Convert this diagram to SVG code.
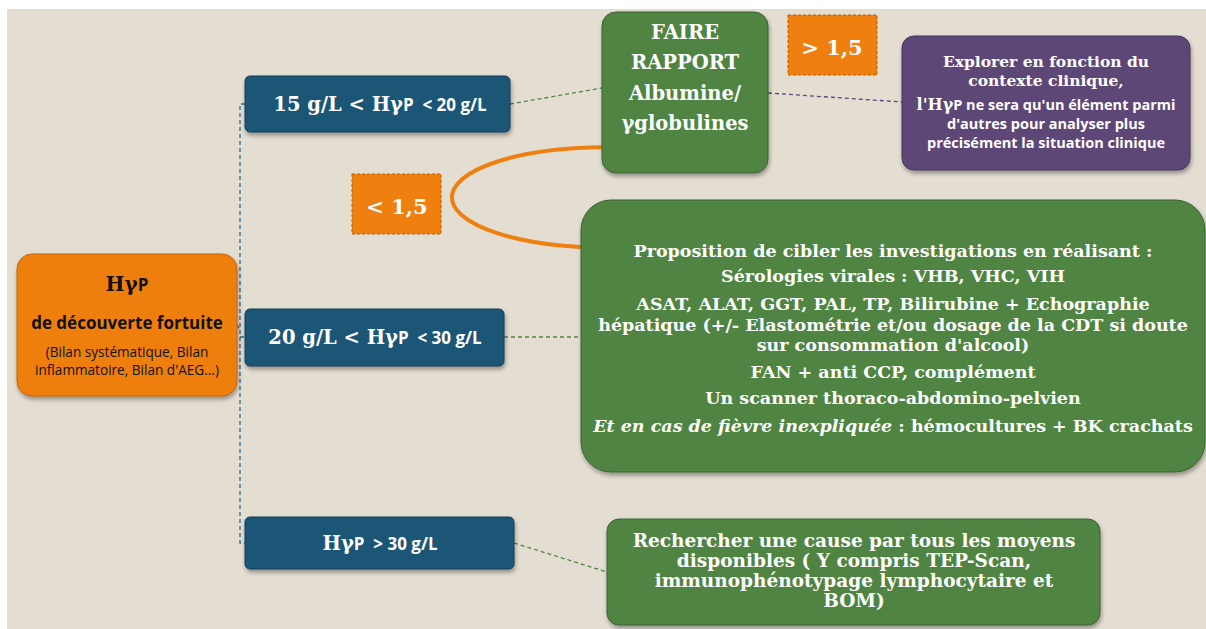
<svg xmlns="http://www.w3.org/2000/svg" width="1206" height="629" viewBox="0 0 1206 629">
<defs>
<filter id="sh" x="-10%" y="-10%" width="120%" height="130%">
<feDropShadow dx="1" dy="3" stdDeviation="2" flood-color="#000" flood-opacity="0.35"/>
</filter>
<style>
.serif{font-family:"DejaVu Serif","Liberation Serif",serif;font-weight:bold;}
.sans{font-family:"Open Sans","Noto Sans","Liberation Sans",sans-serif;font-weight:bold;}
.w{fill:#ffffff;}
.k{fill:#111111;}
.blue{fill:#1b5677;stroke:#143f57;stroke-width:1;}
.green{fill:#4f8442;stroke:#3b6331;stroke-width:1;}
.con{fill:none;stroke-width:1.3;stroke-dasharray:4 3;}
</style>
</defs>
<rect x="0" y="0" width="1206" height="629" fill="#ffffff"/>
<rect x="7" y="9" width="1199" height="620" fill="#e4ddd2"/>

<g id="connectors">
<path class="con" stroke="#2f6a8a" d="M237 325 L240 330 M245 104 L240 104 L240 543 L245 543 M240 337 L245 337"/>
<path class="con" stroke="#4f8442" d="M510 104 L602 88"/>
<path class="con" stroke="#5d4777" d="M768 93 L902 102"/>
<path class="con" stroke="#4f8442" d="M504 337 L581 337"/>
<path class="con" stroke="#4f8442" d="M514 543 L607 572"/>
<path d="M 640 149 A 150 50 0 1 0 620 247" fill="none" stroke="#ef7f0e" stroke-width="4"/>
</g>

<g id="node-hyp">
<rect x="17" y="254" width="220" height="142" rx="15" fill="#ef7f0e" stroke="#c2650a" filter="url(#sh)"/>
<text x="127" y="291" text-anchor="middle" class="k"><tspan class="serif" font-size="20">Hγ</tspan><tspan class="sans" font-size="17">P</tspan></text>
<text x="127" y="329" text-anchor="middle" class="sans k" font-size="17">de découverte fortuite</text>
<text x="127" y="357" text-anchor="middle" class="k" font-family="Open Sans,Noto Sans,sans-serif" font-size="13.6">(Bilan systématique, Bilan</text>
<text x="127" y="375" text-anchor="middle" class="k" font-family="Open Sans,Noto Sans,sans-serif" font-size="13.6">inflammatoire, Bilan d'AEG...)</text>
</g>

<g id="node-15-20">
<rect class="blue" x="245" y="76" width="265" height="56" rx="5" filter="url(#sh)"/>
<text x="380" y="111" text-anchor="middle" class="w"><tspan class="serif" font-size="19.5">15 g/L &lt; Hγ</tspan><tspan class="sans" font-size="17">P &#160;&lt; 20 g/L</tspan></text>
</g>

<g id="node-20-30">
<rect class="blue" x="245" y="309" width="259" height="57" rx="5" filter="url(#sh)"/>
<text x="375" y="344" text-anchor="middle" class="w"><tspan class="serif" font-size="19.5">20 g/L &lt; Hγ</tspan><tspan class="sans" font-size="17">P &#160;&lt; 30 g/L</tspan></text>
</g>

<g id="node-30">
<rect class="blue" x="245" y="517" width="269" height="52" rx="5" filter="url(#sh)"/>
<text x="380" y="550" text-anchor="middle" class="w"><tspan class="serif" font-size="19.5">Hγ</tspan><tspan class="sans" font-size="17">P &#160;&gt; 30 g/L</tspan></text>
</g>

<g id="node-rapport">
<rect class="green" x="602" y="12" width="166" height="161" rx="14" filter="url(#sh)"/>
<g class="serif w" font-size="19.5" text-anchor="middle">
<text x="685" y="39">FAIRE</text>
<text x="685" y="69">RAPPORT</text>
<text x="685" y="100">Albumine/</text>
<text x="685" y="130">γglobulines</text>
</g>
</g>

<g id="node-gt15">
<rect x="788" y="15" width="89" height="60" fill="#ef7f0e" stroke="#b85e0a" stroke-dasharray="3 2"/>
<text x="832" y="55" text-anchor="middle" class="serif w" font-size="21">&gt; 1,5</text>
</g>

<g id="node-lt15">
<rect x="352" y="174" width="89" height="60" fill="#ef7f0e" stroke="#b85e0a" stroke-dasharray="3 2"/>
<text x="397" y="214" text-anchor="middle" class="serif w" font-size="21">&lt; 1,5</text>
</g>

<g id="node-explorer">
<rect x="902" y="36" width="288" height="134" rx="12" fill="#5d4777" stroke="#46345c" filter="url(#sh)"/>
<g text-anchor="middle" class="w">
<text x="1046" y="67" class="serif" font-size="15.5">Explorer en fonction du</text>
<text x="1046" y="86" class="serif" font-size="15.5">contexte clinique,</text>
<text x="1046" y="110"><tspan class="serif" font-size="16">l'Hγ</tspan><tspan class="sans" font-size="14.5">P ne sera qu'un élément parmi</tspan></text>
<text x="1046" y="129" class="sans" font-size="14.5">d'autres pour analyser plus</text>
<text x="1046" y="148" class="sans" font-size="14.5">précisément la situation clinique</text>
</g>
</g>

<g id="node-investigations">
<rect class="green" x="581" y="200" width="624" height="272" rx="30" filter="url(#sh)"/>
<g class="serif w" font-size="17.5" text-anchor="middle">
<text x="893" y="257">Proposition de cibler les investigations en réalisant :</text>
<text x="893" y="282">Sérologies virales : VHB, VHC, VIH</text>
<text x="893" y="310">ASAT, ALAT, GGT, PAL, TP, Bilirubine + Echographie</text>
<text x="893" y="331">hépatique (+/- Elastométrie et/ou dosage de la CDT si doute</text>
<text x="893" y="351">sur consommation d'alcool)</text>
<text x="893" y="378">FAN + anti CCP, complément</text>
<text x="893" y="404">Un scanner thoraco-abdomino-pelvien</text>
<text x="893" y="432"><tspan font-style="italic">Et en cas de fièvre inexpliquée</tspan> : hémocultures + BK crachats</text>
</g>
</g>

<g id="node-rechercher">
<rect class="green" x="607" y="519" width="493" height="106" rx="12" filter="url(#sh)"/>
<g class="serif w" font-size="18.5" text-anchor="middle">
<text x="854" y="547">Rechercher une cause par tous les moyens</text>
<text x="854" y="567">disponibles ( Y compris TEP-Scan,</text>
<text x="854" y="587">immunophénotypage lymphocytaire et</text>
<text x="854" y="607">BOM)</text>
</g>
</g>
</svg>
